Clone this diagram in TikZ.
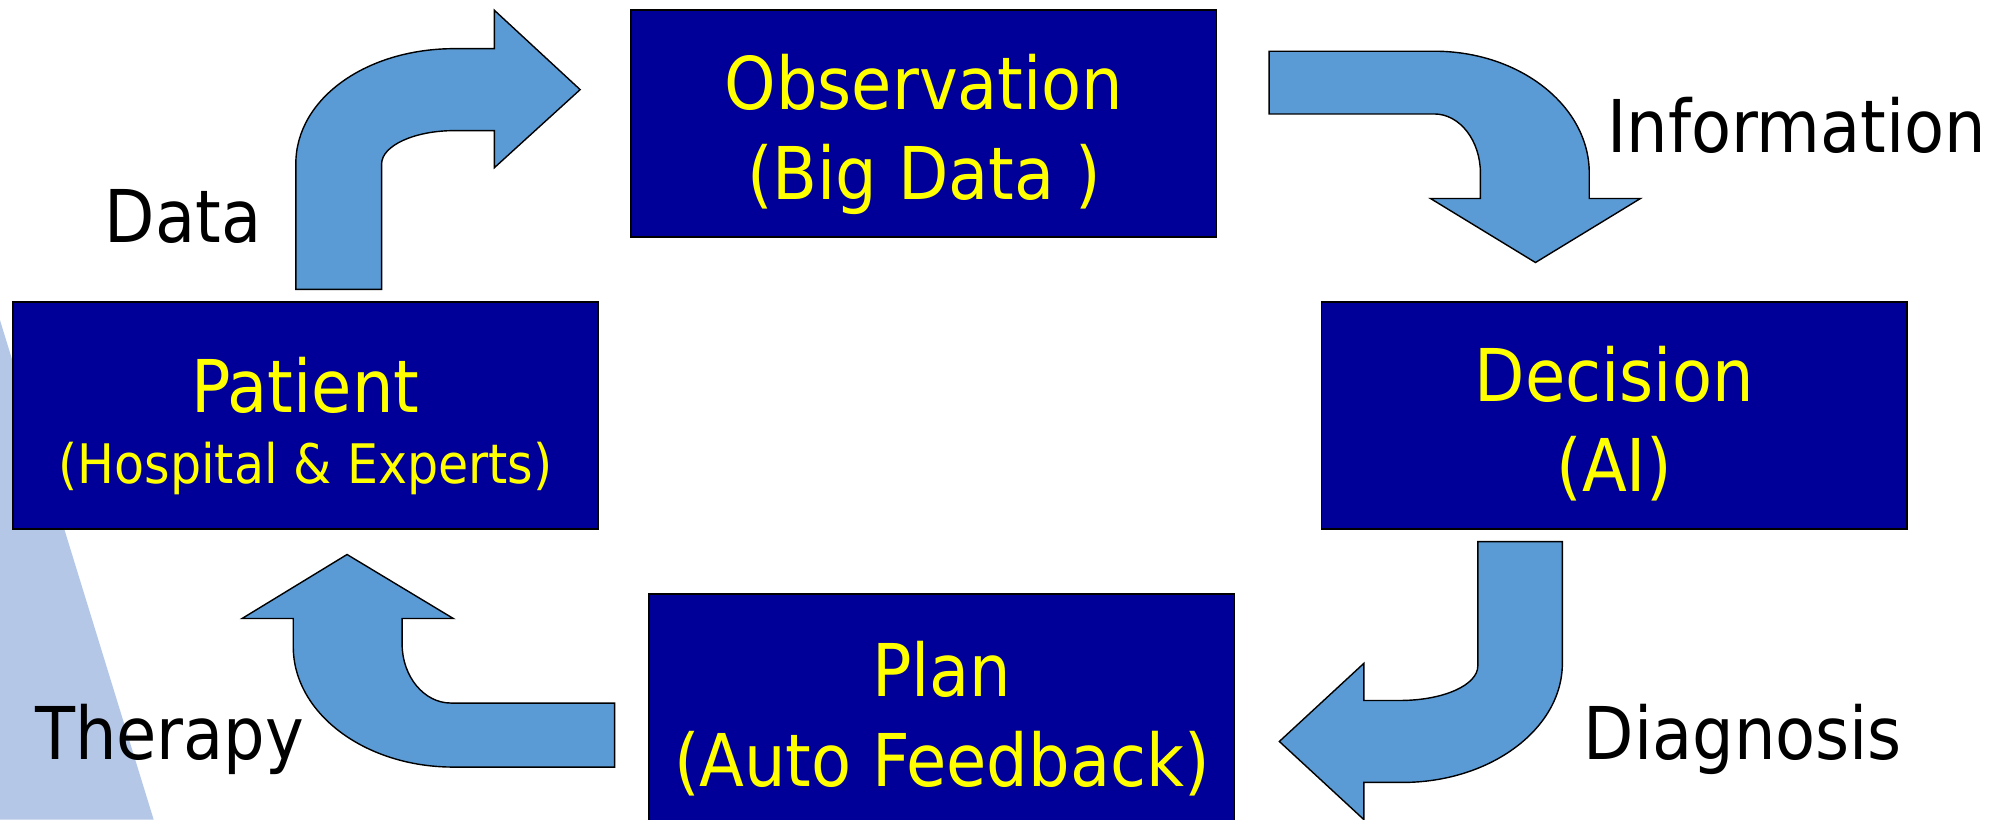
\documentclass[tikz,border=0pt]{standalone}
\usepackage{fontspec}
\setmainfont{DejaVu Sans Condensed}
\definecolor{boxblue}{RGB}{0,0,153}
\definecolor{arrowblue}{RGB}{91,155,213}
\definecolor{paleblue}{RGB}{180,199,231}
\definecolor{boxyellow}{RGB}{255,255,0}
\newcommand{\boxlines}[2]{\rule{0pt}{22pt}#1\\#2\rule[-4.5pt]{0pt}{4.5pt}}

\begin{document}
\begin{tikzpicture}[x=0.128mm,y=-0.128mm,
  stage/.style={draw=black,line width=.5pt,fill=boxblue,text=boxyellow,minimum width=58.5mm,minimum height=22.66mm,inner sep=0pt,align=center,font=\fontsize{20.7}{25.6}\selectfont},
  flow/.style={draw=black,line width=.4pt,fill=arrowblue},
  tag/.style={anchor=base,font=\fontsize{20.7}{25.6}\selectfont}]
\useasboundingbox(0,0)rectangle(1568,640);
\fill[paleblue](0,250)--(120,640)--(0,640)--cycle;
\node[stage](obs)at(721.5,96.5){\boxlines{Observation}{(Big Data )}};
\node[stage](dec)at(1260.5,324.5){\boxlines{Decision}{(AI)}};
\node[stage,minimum height=23.3mm](plan)at(735.5,555){\boxlines{Plan}{(Auto Feedback)}};
\node[stage](pat)at(238.5,324.5){\rule{0pt}{23pt}Patient\\[-5.4pt]{\fontsize{15.5}{20.2}\selectfont(Hospital \& Experts)}\rule[-4.5pt]{0pt}{4.5pt}};
\node[tag](data)at(143,189.4){Data};\node[tag](info)at(1403,119){Information};
\node[tag](ther)at(132.5,593){Therapy};\node[tag](diag)at(1361,593){Diagnosis};
% bent block arrows round the cycle
\draw[flow](231,226)--(231,128) .. controls (231,77) and (286,38) .. (355,38)--(386,38)--(386,8)--(453,70)--(386,131)--(386,102)--(355,102) .. controls (323,102) and (298,114) .. (298,128)--(298,226)--cycle;
\draw[flow](991,40)--(1120,40) .. controls (1187,40) and (1241,83) .. (1241,135)--(1241,155)--(1281,155)--(1199,205)--(1117,155)--(1156,155)--(1156,135) .. controls (1156,110) and (1140,89) .. (1120,89)--(991,89)--cycle;
\draw[flow](1154,423)--(1220,423)--(1220,518) .. controls (1220,569) and (1164,611) .. (1095,611)--(1065,611)--(1065,640)--(999,579)--(1065,518)--(1065,547)--(1093,547) .. controls (1127,547) and (1154,535) .. (1154,520)--cycle;
\draw[flow](480,549)--(352,549) .. controls (331,549) and (314,528) .. (314,503)--(314,483)--(354,483)--(271,433)--(189,483)--(229,483)--(229,505) .. controls (229,557) and (285,599) .. (354,599)--(480,599)--cycle;
\end{tikzpicture}
\end{document}
